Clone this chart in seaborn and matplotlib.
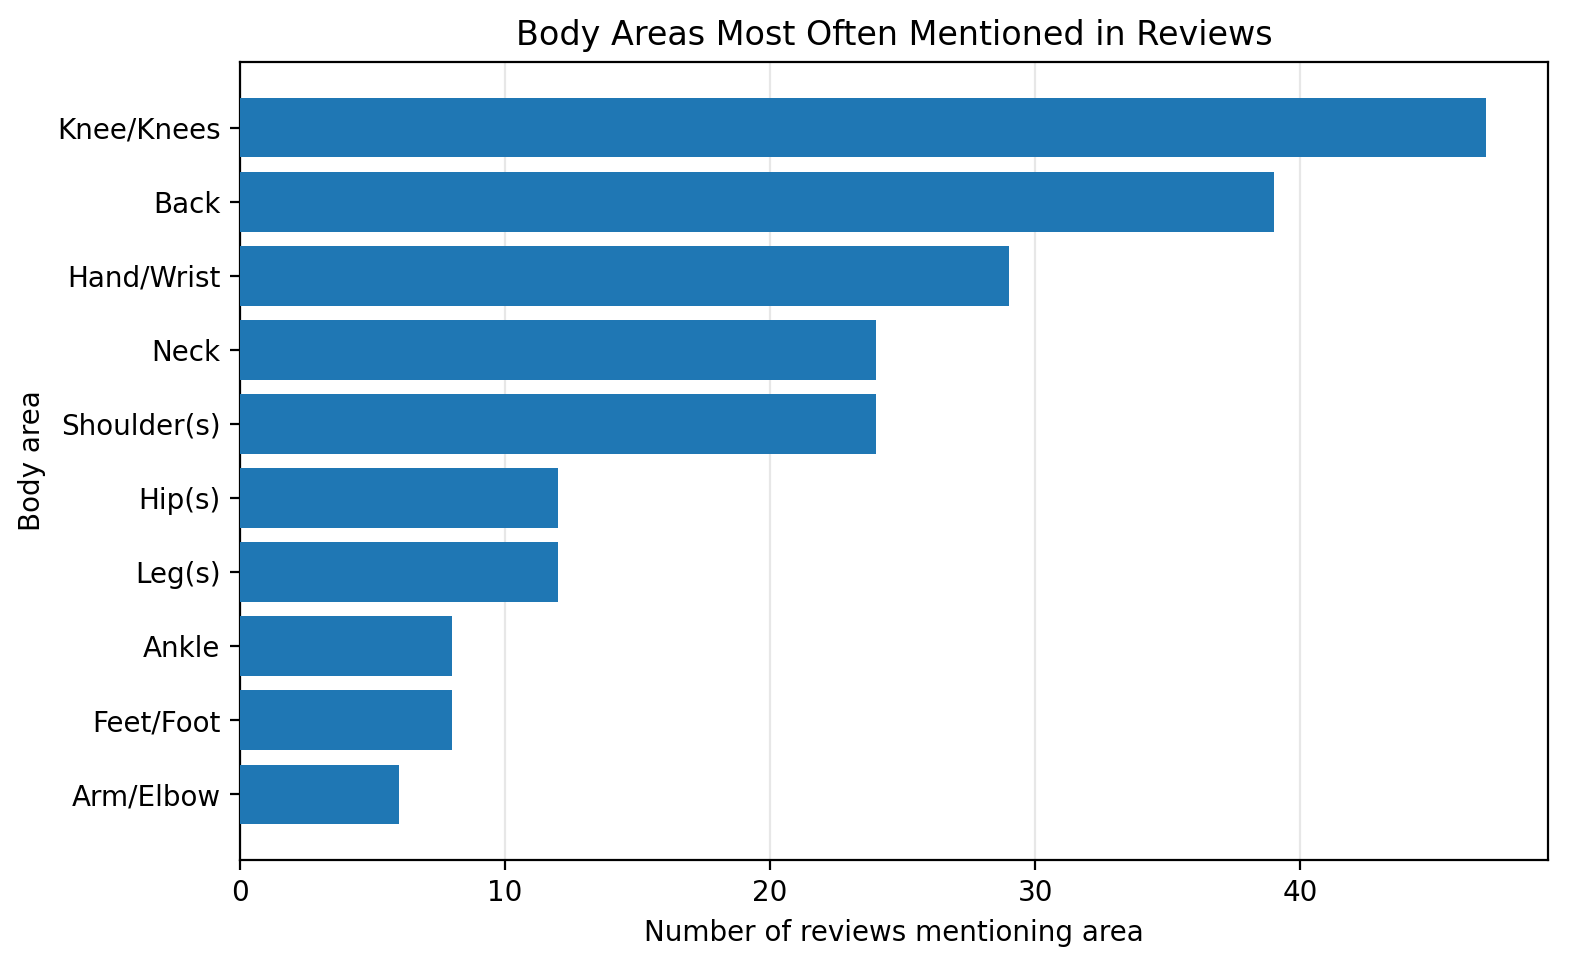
import matplotlib
matplotlib.use("Agg")
import matplotlib.pyplot as plt
import seaborn as sns
import pandas as pd

areas = ["Knee/Knees", "Back", "Hand/Wrist", "Neck", "Shoulder(s)",
         "Hip(s)", "Leg(s)", "Ankle", "Feet/Foot", "Arm/Elbow"]
counts = [47, 39, 29, 24, 24, 12, 12, 8, 8, 6]

df = pd.DataFrame({"area": areas, "count": counts})

plt.rcParams["font.family"] = ["DejaVu Sans"]

fig, ax = plt.subplots(figsize=(7.905, 4.885), dpi=200)
sns.barplot(data=df, x="count", y="area", orient="h", color="#1f77b4",
            saturation=1, width=0.8, ax=ax, zorder=3)
for p in ax.patches:
    p.set_edgecolor("none")

n = len(areas)
pad = 0.05 * (n - 1 + 0.8)
ax.set_ylim(n - 1 + 0.4 + pad, -0.4 - pad)
ax.set_xlim(0, max(counts) * 1.05)
ax.grid(axis="x", alpha=0.3, zorder=0)
ax.grid(axis="y", visible=False)
ax.set_axisbelow(True)
for s in ax.spines.values():
    s.set_visible(True)
    s.set_color("black")
    s.set_linewidth(0.8)

ax.set_xlabel("Number of reviews mentioning area")
ax.set_ylabel("Body area")
ax.set_title("Body Areas Most Often Mentioned in Reviews")

fig.subplots_adjust(left=240 / 1581, right=1548 / 1581, top=1 - 62 / 977, bottom=1 - 860 / 977)
fig.savefig("out.png", dpi=200)
plt.close(fig)
